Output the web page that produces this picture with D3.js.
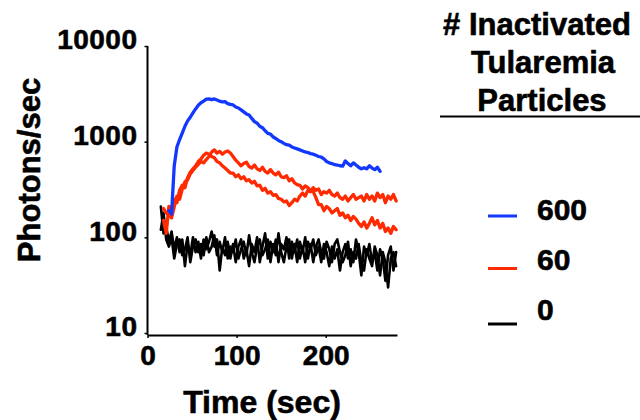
<!DOCTYPE html>
<html>
<head>
<meta charset="utf-8">
<script src="https://cdn.jsdelivr.net/npm/d3@7"></script>
<style>
  html, body { margin: 0; padding: 0; background: #fff; }
  svg { display: block; }
  text { font-family: "Liberation Sans", Arial, Helvetica, sans-serif; font-weight: bold; fill: #000; stroke: #000; stroke-width: 0.6px; }
</style>
</head>
<body>
<svg id="chart" width="640" height="420"></svg>
<script>
// ---- data ----
const times = [
  15,18,21,24,27,30,33,36,39,42,
  45,48,51,54,57,60,63,66,69,72,
  75,78,81,84,87,90,93,96,99,102,
  105,108,111,114,117,120,123,126,129,132,
  135,138,141,144,147,150,153,156,159,162,
  165,168,171,174,177,180,183,186,189,192,
  195,198,201,204,207,210,213,216,219,222,
  225,228,231,234,237,240,243,246,249,252,
  255,258,261,264,267,270,273,276,279
];

const blue600 = [
  null,null,null,190,175,560,880,1050,1230,1450,
  1650,1800,2000,2200,2400,2550,2650,2780,2800,2750,
  2800,2720,2650,2600,2620,2500,2450,2420,2300,2250,
  2150,2050,1950,1900,1750,1620,1560,1450,1400,1300,
  1220,1200,1120,1080,1030,1000,960,930,920,880,
  860,840,820,800,780,770,750,740,720,700,
  690,660,620,600,590,575,570,560,555,630,
  590,560,600,570,540,520,535,520,560,530,
  510,540,490,null,null,null,null,null,null
];

const red60a = [
  null,150,110,210,200,250,230,310,350,330,
  420,480,520,560,620,660,720,760,740,700,
  680,620,600,560,530,500,470,470,430,450,
  410,430,390,400,370,385,345,350,310,325,
  290,300,275,280,255,250,235,240,215,230,
  250,240,270,290,270,310,300,330,310,320,
  280,300,290,310,280,270,290,260,250,270,
  240,260,280,250,260,270,240,280,250,270,
  240,290,260,280,230,270,250,280,240
];

const red60b = [
  null,200,180,170,160,210,270,250,320,380,
  400,460,500,540,580,620,600,650,700,780,
  820,760,790,740,780,800,760,700,640,600,
  560,590,610,550,530,570,520,500,540,490,
  470,510,470,450,480,430,420,440,390,410,
  370,355,350,320,345,330,310,300,260,220,
  220,190,210,200,180,190,200,170,180,160,
  170,150,165,155,140,130,145,125,140,160,
  135,150,125,140,115,125,110,130,120
];

const black0a = [
  210,110,130,90,115,75,100,70,95,50,
  85,65,100,70,90,60,95,75,90,115,
  80,95,45,80,65,90,60,85,55,80,
  95,60,75,50,85,70,100,55,80,110,
  60,90,70,95,55,85,75,100,60,90,
  70,95,60,80,55,90,75,95,65,80,
  55,85,70,50,80,60,75,45,70,85,
  60,75,55,95,70,40,80,65,85,55,
  70,45,75,60,35,65,80,45,70
];

const black0b = [
  120,180,95,80,100,60,85,95,65,75,
  100,55,80,95,70,85,65,100,70,80,
  105,65,90,70,100,60,80,70,95,60,
  75,90,65,105,70,55,80,95,65,75,
  95,55,85,65,110,70,55,80,95,60,
  85,55,90,70,100,60,85,55,80,95,
  70,60,90,75,55,85,95,70,55,65,
  90,50,70,60,85,55,45,75,60,50,
  80,65,40,70,55,30,60,70,50
];

const xTicks = [0, 100, 200];
const yTicks = [10, 100, 1000, 10000];
const legendTitle = ["# Inactivated", "Tularemia", "Particles"];
const legendLabels = ["600", "60", "0"];
const colors = { blue: "#1238ff", red: "#ff2a00", black: "#000000" };

// ---- chart ----
const svg = d3.select("#chart");
svg.append("rect").attr("width", 640).attr("height", 420).attr("fill", "#fff");

const x = d3.scaleLinear().domain([0, 280]).range([147.5, 397]);
const y = d3.scaleLog().domain([10, 10000]).range([333, 46]);

const series = [
  { values: black0a, color: colors.black, w: 2.6 },
  { values: black0b, color: colors.black, w: 2.6 },
  { values: red60a, color: colors.red, w: 3.3 },
  { values: red60b, color: colors.red, w: 3.3 },
  { values: blue600, color: colors.blue, w: 3.3 }
];

const line = d3.line()
  .defined(d => d.v != null)
  .x(d => x(d.t))
  .y(d => y(d.v));

series.forEach(s => {
  const pts = times.map((t, i) => ({ t: t, v: s.values[i] }));
  svg.append("path")
    .datum(pts)
    .attr("fill", "none")
    .attr("stroke", s.color)
    .attr("stroke-width", s.w)
    .attr("stroke-linejoin", "round")
    .attr("stroke-linecap", "round")
    .attr("d", line);
});

// x axis
const xAxis = svg.append("g")
  .attr("transform", "translate(0,335)")
  .call(d3.axisBottom(x).tickValues(xTicks).tickSize(3).tickSizeOuter(0).tickPadding(7).tickFormat(d3.format("d")));
xAxis.select(".domain").attr("stroke", "#000").attr("stroke-width", 2);
xAxis.selectAll(".tick line").attr("stroke", "#000").attr("stroke-width", 1.5);
xAxis.selectAll(".tick text").style("font-size", "28px").attr("fill", "#000");

// y axis
const yAxis = svg.append("g")
  .attr("transform", "translate(147.5,0)")
  .call(d3.axisLeft(y).tickValues(yTicks).tickSize(3).tickSizeOuter(0).tickPadding(7).tickFormat(d3.format("d")));
yAxis.select(".domain").attr("stroke", "#000").attr("stroke-width", 2)
  .attr("d", `M0,${y(10000)}V335`);
yAxis.selectAll(".tick line").attr("stroke", "#000").attr("stroke-width", 1.5);
yAxis.selectAll(".tick text").style("font-size", "28px").style("letter-spacing", "0.5px")
  .attr("dy", "0.1em").attr("fill", "#000");

// axis titles
svg.append("text")
  .attr("x", 262).attr("y", 413)
  .attr("text-anchor", "middle")
  .style("font-size", "32px")
  .text("Time (sec)");

svg.append("text")
  .attr("transform", "translate(40,170) rotate(-90)")
  .attr("text-anchor", "middle")
  .style("font-size", "31px")
  .text("Photons/sec");

// legend
const titleX = [537, 543, 542];
const titleY = [35, 73, 111];
legendTitle.forEach((t, i) => {
  svg.append("text")
    .attr("x", titleX[i]).attr("y", titleY[i])
    .attr("text-anchor", "middle")
    .style("font-size", "31px")
    .text(t);
});
svg.append("line")
  .attr("x1", 440).attr("x2", 640)
  .attr("y1", 116.5).attr("y2", 116.5)
  .attr("stroke", "#000").attr("stroke-width", 2);

const legColors = [colors.blue, colors.red, colors.black];
const legLineY = [216, 268.5, 324];
const legTextY = [220, 270, 320];
legendLabels.forEach((lab, i) => {
  svg.append("line")
    .attr("x1", 488).attr("x2", 517)
    .attr("y1", legLineY[i]).attr("y2", legLineY[i])
    .attr("stroke", legColors[i]).attr("stroke-width", 3);
  svg.append("text")
    .attr("x", 537).attr("y", legTextY[i])
    .style("font-size", "30px")
    .text(lab);
});
</script>
</body>
</html>
